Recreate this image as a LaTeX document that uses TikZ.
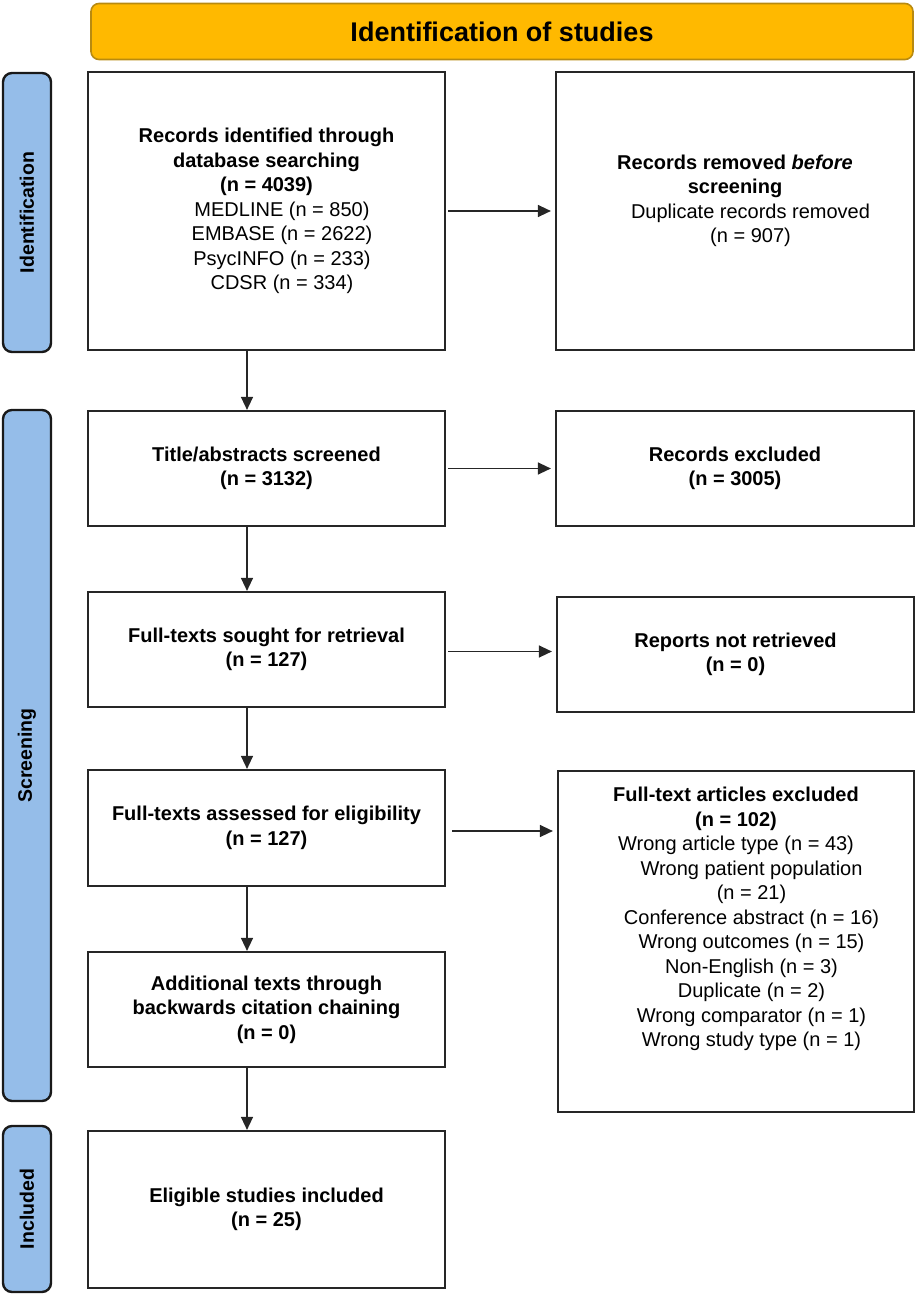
\documentclass[tikz,border=0pt]{standalone}
\usepackage{fontspec}
\setmainfont{Liberation Sans}
\usetikzlibrary{arrows.meta}
\definecolor{headorange}{HTML}{FFB900}
\definecolor{headedge}{HTML}{B88A10}
\definecolor{barblue}{HTML}{95BDE9}
\newcommand{\pushr}{\hspace*{31pt}}
\tikzstyle{box}=[draw=black!85, line width=2.2pt, fill=white, align=center, inner sep=0pt, font=\fontsize{20}{24.5}\selectfont]
\tikzstyle{stagebar}=[draw=black!90, line width=2.4pt, fill=barblue, rounded corners=9pt, minimum width=48pt, font=\bfseries\fontsize{19.5}{23}\selectfont]
\tikzstyle{flow}=[draw=black!85, line width=1.4pt, -{Triangle[length=13pt,width=12pt]}]

\begin{document}
\begin{tikzpicture}[x=1pt, y=-1pt]
\useasboundingbox (0,0) rectangle (918,1295);
% Heading
    \node[draw=headedge, line width=1.6pt, fill=headorange, rounded corners=8pt, minimum width=822pt, minimum height=56pt, font=\bfseries\fontsize{27}{32}\selectfont] (heading) at (502,31.5) {Identification of studies};
% Stage bars
    \node[stagebar, minimum height=279pt] (idbar) at (27,212.5) {};
    \node[stagebar, minimum height=691pt] (scrbar) at (27,755.5) {};
    \node[stagebar, minimum height=166pt] (incbar) at (27,1209) {};
    \node[rotate=90, font=\bfseries\fontsize{19.5}{23}\selectfont] (idlabel) at (idbar) {Identification};
    \node[rotate=90, font=\bfseries\fontsize{19.5}{23}\selectfont] (scrlabel) at (scrbar) {Screening};
    \node[rotate=90, font=\bfseries\fontsize{19.5}{23}\selectfont] (inclabel) at (incbar) {Included};
% Left column
    \node[box, minimum width=357pt, minimum height=278pt] (recid) at (266.5,211) {\textbf{Records identified through}\\\textbf{database searching}\\\textbf{(n = 4039)}\\\pushr MEDLINE (n = 850)\\\pushr EMBASE (n = 2622)\\\pushr PsycINFO (n = 233)\\\pushr CDSR (n = 334)};
    \node[box, minimum width=357pt, minimum height=115pt] (screened) at (266.5,468.5) {\textbf{Title/abstracts screened}\\\textbf{(n = 3132)}};
    \node[box, minimum width=357pt, minimum height=115pt] (sought) at (266.5,649.5) {\textbf{Full-texts sought for retrieval}\\\textbf{(n = 127)}};
    \node[box, minimum width=357pt, minimum height=116pt] (assessed) at (266.5,828) {\textbf{Full-texts assessed for eligibility}\\\textbf{(n = 127)}};
    \node[box, minimum width=357pt, minimum height=115pt] (additional) at (266.5,1009.5) {\textbf{Additional texts through}\\\textbf{backwards citation chaining}\\\textbf{(n = 0)}};
    \node[box, minimum width=357pt, minimum height=157pt] (eligible) at (266.5,1209.5) {\textbf{Eligible studies included}\\\textbf{(n = 25)}};
% Right column
    \node[box, minimum width=358pt, minimum height=278pt] (removed) at (735,211) {\textbf{Records removed \textit{before}}\\\textbf{screening}\\\pushr Duplicate records removed\\\pushr (n = 907)\\ ~};
    \node[box, minimum width=358pt, minimum height=115pt] (recexcl) at (735,468.5) {\textbf{Records excluded}\\\textbf{(n = 3005)}};
    \node[box, minimum width=357pt, minimum height=115pt] (notret) at (735.5,654.5) {\textbf{Reports not retrieved}\\\textbf{(n = 0)}};
    \node[box, minimum width=356pt, minimum height=341pt] (artexcl) at (736,941.5) {\textbf{Full-text articles excluded}\\\textbf{(n = 102)}\\Wrong article type (n = 43)\\\pushr Wrong patient population\\\pushr (n = 21)\\\pushr Conference abstract (n = 16)\\\pushr Wrong outcomes (n = 15)\\\pushr Non-English (n = 3)\\\pushr Duplicate (n = 2)\\\pushr Wrong comparator (n = 1)\\\pushr Wrong study type (n = 1)\\ ~\\ ~};
% Arrow starts
    \coordinate (soughtout) at ([yshift=-2pt]sought.east);
    \coordinate (assessedout) at ([yshift=-3pt]assessed.east);
% Arrows down
    \draw[flow] ([xshift=-19.5pt]recid.south) -- ([xshift=-19.5pt]screened.north);
    \draw[flow] ([xshift=-19.5pt]screened.south) -- ([xshift=-19.5pt]sought.north);
    \draw[flow] ([xshift=-19.5pt]sought.south) -- ([xshift=-19.5pt]assessed.north);
    \draw[flow] ([xshift=-19.5pt]assessed.south) -- ([xshift=-19.5pt]additional.north);
    \draw[flow] ([xshift=-19.5pt]additional.south) -- ([xshift=-19.5pt]eligible.north);
% Arrows across
    \draw[flow, shorten <=2pt, shorten >=4pt] (recid.east) -- (removed.west |- recid.east);
    \draw[flow, shorten <=2pt, shorten >=4pt] (screened.east) -- (recexcl.west |- screened.east);
    \draw[flow, shorten <=2pt, shorten >=4pt] (soughtout) -- (notret.west |- soughtout);
    \draw[flow, shorten <=6pt, shorten >=4pt] (assessedout) -- (artexcl.west |- assessedout);
\end{tikzpicture}
\end{document}
